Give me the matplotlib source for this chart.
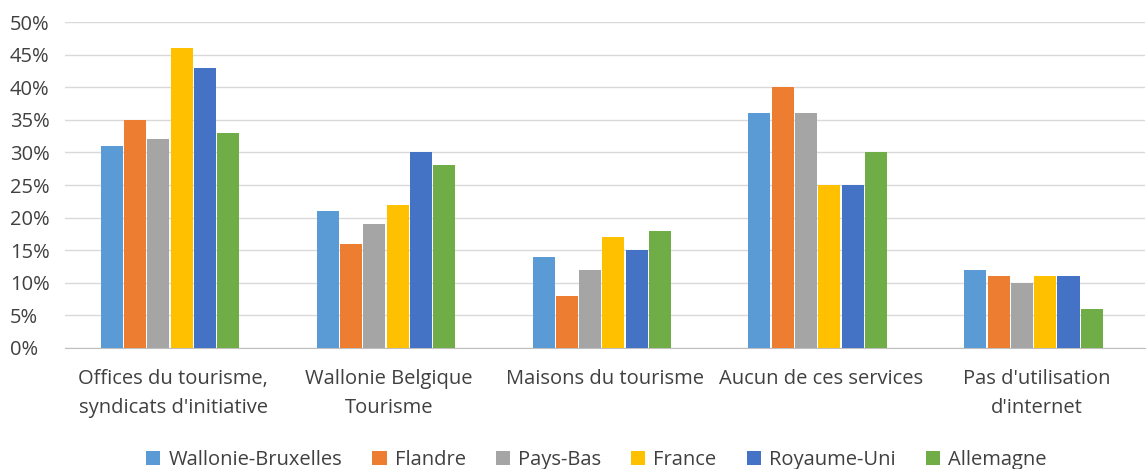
import matplotlib.pyplot as plt
import numpy as np

categories = ["Offices du tourisme,\nsyndicats d'initiative", "Wallonie Belgique\nTourisme",
              "Maisons du tourisme", "Aucun de ces services", "Pas d'utilisation\nd'internet"]
series_names = ["Wallonie-Bruxelles", "Flandre", "Pays-Bas", "France", "Royaume-Uni", "Allemagne"]
wallonie_bruxelles = [31, 21, 14, 36, 12]
flandre = [35, 16, 8, 40, 11]
pays_bas = [32, 19, 12, 36, 10]
france = [46, 22, 17, 25, 11]
royaume_uni = [43, 30, 15, 25, 11]
allemagne = [33, 28, 18, 30, 6]
colors = ["#5B9BD5", "#ED7D31", "#A5A5A5", "#FFC000", "#4472C4", "#70AD47"]

plt.rcParams['font.family'] = ['Open Sans', 'DejaVu Sans']

fig = plt.figure(figsize=(11.47, 4.69), dpi=100)
ax = fig.add_axes([0.057, 0.258, 0.941, 0.695])

series = [wallonie_bruxelles, flandre, pays_bas, france, royaume_uni, allemagne]
x = np.arange(len(categories))
step = 0.108
width = 0.102
for i, (name, vals) in enumerate(zip(series_names, series)):
    ax.bar(x + (i - 2.5) * step - 0.015, vals, width, color=colors[i], label=name, zorder=3)

ax.set_ylim(0, 50)
ax.set_xlim(-0.5, len(categories) - 0.5)
ax.set_yticks(range(0, 51, 5))
ax.set_yticklabels([f"{v}%" for v in range(0, 51, 5)], fontsize=14.5, color="#404040",
                   ha='left')
ax.set_xticks(x)
ax.set_xticklabels(categories, fontsize=14.5, color="#404040", linespacing=1.6)
ax.tick_params(axis='x', length=0, pad=15)
ax.tick_params(axis='y', length=0, pad=40)
ax.grid(axis='y', color="#D9D9D9", linewidth=1, zorder=0)
for s in ['top', 'right', 'left']:
    ax.spines[s].set_visible(False)
ax.spines['bottom'].set_color("#BFBFBF")

ax.legend(loc='lower center', bbox_to_anchor=(0.492, -0.43), ncol=6, frameon=False,
          fontsize=14.5, handlelength=0.7, handleheight=0.7, columnspacing=1.5,
          handletextpad=0.4, labelcolor="#404040")

fig.savefig("out.png", dpi=100)
